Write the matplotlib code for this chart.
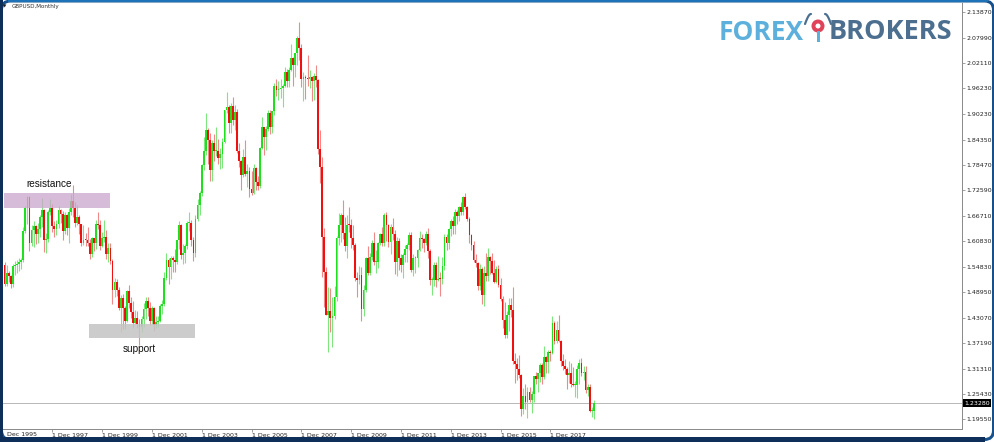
import numpy as np
import matplotlib
matplotlib.use("Agg")
import matplotlib.pyplot as plt
from matplotlib.patches import Rectangle, FancyBboxPatch, Circle

# GBPUSD monthly bars, Jan 1996 .. Sep 2019 (one row per year)
opens = [
    1.553, 1.508, 1.534, 1.527, 1.508, 1.551, 1.553, 1.556, 1.559, 1.565, 1.632, 1.685,
    1.711, 1.605, 1.634, 1.644, 1.625, 1.636, 1.664, 1.680, 1.612, 1.614, 1.675, 1.686,
    1.644, 1.637, 1.649, 1.681, 1.672, 1.633, 1.669, 1.639, 1.675, 1.702, 1.685, 1.651,
    1.665, 1.647, 1.604, 1.612, 1.610, 1.605, 1.578, 1.615, 1.605, 1.649, 1.646, 1.597,
    1.615, 1.617, 1.579, 1.592, 1.563, 1.495, 1.513, 1.495, 1.453, 1.477, 1.454, 1.424,
    1.493, 1.464, 1.445, 1.419, 1.430, 1.416, 1.410, 1.428, 1.452, 1.470, 1.454, 1.423,
    1.454, 1.413, 1.420, 1.423, 1.457, 1.462, 1.524, 1.565, 1.548, 1.570, 1.564, 1.559,
    1.610, 1.645, 1.577, 1.580, 1.596, 1.651, 1.651, 1.610, 1.580, 1.660, 1.693, 1.720,
    1.785, 1.818, 1.865, 1.842, 1.773, 1.836, 1.818, 1.818, 1.800, 1.810, 1.839, 1.912,
    1.920, 1.883, 1.921, 1.888, 1.908, 1.817, 1.794, 1.762, 1.803, 1.765, 1.772, 1.729,
    1.721, 1.779, 1.746, 1.737, 1.824, 1.872, 1.850, 1.868, 1.905, 1.873, 1.909, 1.969,
    1.958, 1.961, 1.964, 1.967, 2.000, 1.979, 2.006, 2.032, 2.017, 2.044, 2.079, 2.055,
    1.985, 1.989, 1.986, 1.985, 1.989, 1.979, 1.990, 1.982, 1.822, 1.780, 1.618, 1.538,
    1.438, 1.447, 1.430, 1.434, 1.478, 1.616, 1.646, 1.670, 1.628, 1.598, 1.646, 1.645,
    1.615, 1.599, 1.522, 1.518, 1.529, 1.451, 1.495, 1.569, 1.534, 1.572, 1.603, 1.559,
    1.559, 1.603, 1.625, 1.605, 1.670, 1.646, 1.606, 1.642, 1.625, 1.559, 1.608, 1.570,
    1.554, 1.576, 1.591, 1.600, 1.623, 1.541, 1.569, 1.569, 1.588, 1.615, 1.614, 1.603,
    1.626, 1.586, 1.518, 1.519, 1.553, 1.519, 1.521, 1.520, 1.550, 1.619, 1.604, 1.637,
    1.656, 1.644, 1.675, 1.667, 1.687, 1.676, 1.710, 1.688, 1.659, 1.622, 1.599, 1.565,
    1.558, 1.505, 1.543, 1.483, 1.535, 1.528, 1.571, 1.562, 1.535, 1.513, 1.543, 1.506,
    1.474, 1.425, 1.392, 1.437, 1.461, 1.449, 1.330, 1.323, 1.313, 1.297, 1.220, 1.249,
    1.235, 1.258, 1.241, 1.255, 1.295, 1.289, 1.302, 1.321, 1.293, 1.340, 1.328, 1.351,
    1.350, 1.419, 1.377, 1.402, 1.377, 1.330, 1.320, 1.312, 1.299, 1.303, 1.277, 1.275,
    1.276, 1.311, 1.326, 1.303, 1.304, 1.263, 1.270, 1.215, 1.215,
]
highs = [
    1.560, 1.553, 1.540, 1.530, 1.556, 1.562, 1.565, 1.570, 1.570, 1.640, 1.690, 1.713,
    1.712, 1.645, 1.654, 1.646, 1.650, 1.668, 1.709, 1.684, 1.627, 1.680, 1.705, 1.695,
    1.656, 1.658, 1.689, 1.684, 1.678, 1.675, 1.672, 1.686, 1.718, 1.738, 1.698, 1.691,
    1.668, 1.649, 1.645, 1.628, 1.641, 1.614, 1.619, 1.616, 1.658, 1.677, 1.657, 1.630,
    1.657, 1.635, 1.604, 1.604, 1.567, 1.524, 1.520, 1.503, 1.483, 1.485, 1.459, 1.496,
    1.507, 1.479, 1.469, 1.448, 1.446, 1.427, 1.435, 1.465, 1.480, 1.478, 1.468, 1.458,
    1.455, 1.434, 1.436, 1.462, 1.473, 1.536, 1.580, 1.569, 1.573, 1.574, 1.591, 1.612,
    1.656, 1.648, 1.602, 1.602, 1.654, 1.675, 1.658, 1.617, 1.669, 1.705, 1.724, 1.787,
    1.849, 1.905, 1.870, 1.860, 1.842, 1.857, 1.872, 1.846, 1.824, 1.847, 1.913, 1.955,
    1.925, 1.929, 1.942, 1.923, 1.914, 1.835, 1.797, 1.822, 1.842, 1.788, 1.780, 1.772,
    1.787, 1.781, 1.760, 1.827, 1.895, 1.873, 1.876, 1.913, 1.912, 1.910, 1.975, 1.985,
    1.980, 1.984, 1.972, 2.013, 2.007, 2.013, 2.066, 2.034, 2.044, 2.083, 2.116, 2.065,
    2.000, 1.993, 2.040, 2.004, 1.990, 1.999, 2.016, 1.985, 1.866, 1.803, 1.638, 1.549,
    1.502, 1.499, 1.478, 1.505, 1.620, 1.674, 1.674, 1.704, 1.664, 1.670, 1.688, 1.660,
    1.646, 1.603, 1.537, 1.551, 1.549, 1.506, 1.572, 1.596, 1.582, 1.610, 1.630, 1.588,
    1.606, 1.628, 1.640, 1.674, 1.675, 1.648, 1.648, 1.662, 1.635, 1.617, 1.616, 1.578,
    1.580, 1.599, 1.604, 1.630, 1.630, 1.578, 1.574, 1.591, 1.631, 1.625, 1.616, 1.631,
    1.638, 1.590, 1.525, 1.560, 1.560, 1.575, 1.537, 1.572, 1.626, 1.626, 1.638, 1.660,
    1.667, 1.682, 1.680, 1.690, 1.700, 1.712, 1.719, 1.690, 1.664, 1.624, 1.608, 1.579,
    1.560, 1.555, 1.548, 1.550, 1.582, 1.593, 1.575, 1.582, 1.565, 1.551, 1.553, 1.524,
    1.481, 1.467, 1.446, 1.477, 1.477, 1.502, 1.348, 1.337, 1.345, 1.300, 1.267, 1.277,
    1.271, 1.271, 1.262, 1.296, 1.305, 1.303, 1.325, 1.327, 1.366, 1.342, 1.355, 1.355,
    1.434, 1.423, 1.424, 1.438, 1.380, 1.347, 1.336, 1.316, 1.330, 1.326, 1.317, 1.284,
    1.322, 1.335, 1.338, 1.320, 1.318, 1.278, 1.278, 1.225, 1.241,
]
lows = [
    1.504, 1.505, 1.514, 1.500, 1.501, 1.530, 1.535, 1.540, 1.544, 1.560, 1.628, 1.648,
    1.585, 1.597, 1.595, 1.602, 1.604, 1.617, 1.640, 1.583, 1.580, 1.606, 1.668, 1.630,
    1.617, 1.623, 1.638, 1.651, 1.612, 1.626, 1.622, 1.604, 1.669, 1.665, 1.641, 1.646,
    1.626, 1.597, 1.600, 1.597, 1.598, 1.566, 1.572, 1.585, 1.590, 1.636, 1.589, 1.594,
    1.606, 1.568, 1.560, 1.556, 1.462, 1.480, 1.482, 1.448, 1.397, 1.404, 1.404, 1.421,
    1.453, 1.431, 1.407, 1.417, 1.406, 1.368, 1.398, 1.410, 1.427, 1.434, 1.413, 1.416,
    1.400, 1.406, 1.410, 1.422, 1.440, 1.458, 1.519, 1.508, 1.520, 1.538, 1.537, 1.555,
    1.591, 1.568, 1.555, 1.558, 1.590, 1.631, 1.596, 1.562, 1.572, 1.656, 1.669, 1.714,
    1.774, 1.808, 1.788, 1.747, 1.748, 1.795, 1.806, 1.788, 1.776, 1.777, 1.836, 1.905,
    1.858, 1.860, 1.877, 1.867, 1.813, 1.780, 1.727, 1.757, 1.760, 1.735, 1.711, 1.715,
    1.717, 1.728, 1.728, 1.732, 1.823, 1.809, 1.819, 1.863, 1.857, 1.858, 1.900, 1.944,
    1.936, 1.940, 1.919, 1.965, 1.965, 1.966, 2.003, 1.968, 1.988, 2.016, 2.029, 1.965,
    1.934, 1.937, 1.967, 1.964, 1.933, 1.936, 1.965, 1.810, 1.744, 1.525, 1.455, 1.437,
    1.351, 1.397, 1.364, 1.429, 1.470, 1.600, 1.607, 1.613, 1.586, 1.570, 1.630, 1.592,
    1.588, 1.515, 1.478, 1.508, 1.423, 1.435, 1.490, 1.531, 1.530, 1.564, 1.553, 1.535,
    1.547, 1.600, 1.597, 1.598, 1.609, 1.595, 1.578, 1.610, 1.533, 1.527, 1.542, 1.536,
    1.523, 1.560, 1.560, 1.589, 1.537, 1.527, 1.534, 1.549, 1.586, 1.592, 1.583, 1.600,
    1.569, 1.507, 1.483, 1.504, 1.501, 1.515, 1.481, 1.510, 1.542, 1.589, 1.590, 1.620,
    1.625, 1.625, 1.648, 1.654, 1.669, 1.669, 1.684, 1.654, 1.605, 1.588, 1.559, 1.548,
    1.495, 1.495, 1.463, 1.457, 1.517, 1.517, 1.533, 1.533, 1.511, 1.511, 1.503, 1.470,
    1.408, 1.384, 1.384, 1.400, 1.433, 1.323, 1.280, 1.286, 1.292, 1.203, 1.208, 1.220,
    1.199, 1.235, 1.211, 1.236, 1.277, 1.259, 1.281, 1.277, 1.290, 1.303, 1.303, 1.330,
    1.346, 1.371, 1.372, 1.375, 1.320, 1.310, 1.301, 1.266, 1.279, 1.270, 1.272, 1.248,
    1.244, 1.277, 1.296, 1.287, 1.256, 1.250, 1.212, 1.201, 1.196,
]
closes = [
    1.508, 1.534, 1.527, 1.508, 1.551, 1.553, 1.556, 1.559, 1.565, 1.632, 1.685, 1.711,
    1.605, 1.634, 1.644, 1.625, 1.636, 1.664, 1.680, 1.612, 1.614, 1.675, 1.686, 1.644,
    1.637, 1.649, 1.681, 1.672, 1.633, 1.669, 1.639, 1.675, 1.702, 1.685, 1.651, 1.665,
    1.647, 1.604, 1.612, 1.610, 1.605, 1.578, 1.615, 1.605, 1.649, 1.646, 1.597, 1.615,
    1.617, 1.579, 1.592, 1.563, 1.495, 1.513, 1.495, 1.453, 1.477, 1.454, 1.424, 1.493,
    1.464, 1.445, 1.419, 1.430, 1.416, 1.410, 1.428, 1.452, 1.470, 1.454, 1.423, 1.454,
    1.413, 1.420, 1.423, 1.457, 1.462, 1.524, 1.565, 1.548, 1.570, 1.564, 1.559, 1.610,
    1.645, 1.577, 1.580, 1.596, 1.651, 1.651, 1.610, 1.580, 1.660, 1.693, 1.720, 1.785,
    1.818, 1.865, 1.842, 1.773, 1.836, 1.818, 1.818, 1.800, 1.810, 1.839, 1.912, 1.920,
    1.883, 1.921, 1.888, 1.908, 1.817, 1.794, 1.762, 1.803, 1.765, 1.772, 1.729, 1.721,
    1.779, 1.746, 1.737, 1.824, 1.872, 1.850, 1.868, 1.905, 1.873, 1.909, 1.969, 1.958,
    1.961, 1.964, 1.967, 2.000, 1.979, 2.006, 2.032, 2.017, 2.044, 2.079, 2.055, 1.985,
    1.989, 1.986, 1.985, 1.989, 1.979, 1.990, 1.982, 1.822, 1.780, 1.618, 1.538, 1.438,
    1.447, 1.430, 1.434, 1.478, 1.616, 1.646, 1.670, 1.628, 1.598, 1.646, 1.645, 1.615,
    1.599, 1.522, 1.518, 1.529, 1.451, 1.495, 1.569, 1.534, 1.572, 1.603, 1.559, 1.559,
    1.603, 1.625, 1.605, 1.670, 1.646, 1.606, 1.642, 1.625, 1.559, 1.608, 1.570, 1.554,
    1.576, 1.591, 1.600, 1.623, 1.541, 1.569, 1.569, 1.588, 1.615, 1.614, 1.603, 1.626,
    1.586, 1.518, 1.519, 1.553, 1.519, 1.521, 1.520, 1.550, 1.619, 1.604, 1.637, 1.656,
    1.644, 1.675, 1.667, 1.687, 1.676, 1.710, 1.688, 1.659, 1.622, 1.599, 1.565, 1.558,
    1.505, 1.543, 1.483, 1.535, 1.528, 1.571, 1.562, 1.535, 1.513, 1.543, 1.506, 1.474,
    1.425, 1.392, 1.437, 1.461, 1.449, 1.330, 1.323, 1.313, 1.297, 1.220, 1.249, 1.235,
    1.258, 1.241, 1.255, 1.295, 1.289, 1.302, 1.321, 1.293, 1.340, 1.328, 1.351, 1.350,
    1.419, 1.377, 1.402, 1.377, 1.330, 1.320, 1.312, 1.299, 1.303, 1.277, 1.275, 1.276,
    1.311, 1.326, 1.303, 1.304, 1.263, 1.270, 1.215, 1.215, 1.233,
]

# bar index 0 = Dec 1995, so the first bar (Jan 1996) sits at 1
first_bar = 1
date_ticks = [24, 48, 72, 96, 120, 144, 168, 192, 216, 240, 264]
date_labels = ["1 Dec 1997", "1 Dec 1999", "1 Dec 2001", "1 Dec 2003",
               "1 Dec 2005", "1 Dec 2007", "1 Dec 2009", "1 Dec 2011",
               "1 Dec 2013", "1 Dec 2015", "1 Dec 2017"]
price_labels = ["2.13870", "2.07990", "2.02110", "1.96230", "1.90230",
                "1.84350", "1.78470", "1.72590", "1.66710", "1.60830",
                "1.54830", "1.48950", "1.43070", "1.37190", "1.31310",
                "1.25430", "1.19550"]
last_price = 1.2328

resistance_prices = (1.6852, 1.7199)
resistance_bars = (0.7, 51.8)
support_prices = (1.3839, 1.4163)
support_bars = (41.7, 92.8)

bull = "#1fe01f"
bear = "#f01010"
bull_wick = "#7fe67f"
bear_wick = "#f08a8a"
px = 0.72  # points per pixel at dpi 100

o = np.array(opens)
h = np.array(highs)
l = np.array(lows)
c = np.array(closes)
x = np.arange(len(c)) + first_bar
up = c >= o

fig = plt.figure(figsize=(9.95, 4.42), dpi=100)
ax = fig.add_axes([3 / 995, 13 / 442, 959 / 995, 426 / 442])
ax.set_xlim(0.24, 462.4)
ax.set_ylim(1.1730, 2.1603)

ax.axhline(last_price, color="#b9b9b9", lw=1 * px, zorder=1)

# wicks then bodies
ax.vlines(x[up], l[up], h[up], color=bull_wick, lw=1.1 * px, zorder=2)
ax.vlines(x[~up], l[~up], h[~up], color=bear_wick, lw=1.1 * px, zorder=2)
body_lo = np.minimum(o, c)
body_h = np.maximum(np.abs(c - o), 0.0025)
ax.bar(x, body_h, bottom=body_lo, width=0.85,
       color=np.where(up, bull, bear), linewidth=0, zorder=3)

# zones
ax.add_patch(Rectangle((resistance_bars[0], resistance_prices[0]),
                       resistance_bars[1] - resistance_bars[0],
                       resistance_prices[1] - resistance_prices[0],
                       facecolor="#c9a6cc", alpha=0.75, linewidth=0, zorder=4))
ax.add_patch(Rectangle((support_bars[0], support_prices[0]),
                       support_bars[1] - support_bars[0],
                       support_prices[1] - support_prices[0],
                       facecolor="#c4c4c4", alpha=0.85, linewidth=0, zorder=4))
ax.text(22.7, 1.7415, "resistance", ha="center", va="center",
        fontsize=7.2, family="Liberation Sans", color="#111111", zorder=5)
ax.text(65.8, 1.3584, "support", ha="center", va="center",
        fontsize=7.2, family="Liberation Sans", color="#111111", zorder=5)

# axes look (MT4 style)
for s in ["top", "left"]:
    ax.spines[s].set_visible(False)
for s in ["bottom", "right"]:
    ax.spines[s].set_color("#8c8c8c")
    ax.spines[s].set_linewidth(1 * px)

ax.yaxis.tick_right()
ax.set_yticks([float(v) for v in price_labels], price_labels)
ax.set_xticks(date_ticks, date_labels)
for lab in ax.get_xticklabels():
    lab.set_horizontalalignment("left")
ax.tick_params(axis="both", labelsize=4.5, colors="#8c8c8c",
               labelcolor="#222222", length=3 * px, width=0.8 * px)
ax.tick_params(axis="x", pad=1.0)
ax.tick_params(axis="y", pad=1.0)

ax.annotate("1.23280", xy=(1, last_price), xycoords=("axes fraction", "data"),
            xytext=(1.6, 0), textcoords="offset points", va="center", ha="left",
            fontsize=4.5, color="white",
            bbox=dict(boxstyle="square,pad=0.2", fc="black", ec="black", lw=0))

# overlay in pixel coordinates: frame, title, logo
ov = fig.add_axes([0, 0, 1, 1], zorder=10)
ov.set_xlim(0, 995)
ov.set_ylim(442, 0)
ov.axis("off")
ov.patch.set_alpha(0)

ov.text(7, 434.5, "Dec 1995", fontsize=4.5, color="#222222", va="center", ha="left")
ov.text(5, 6.5, "\u25bc", fontsize=3.2, color="#222222", va="center", ha="center")
ov.text(11.5, 6.8, "GBPUSD,Monthly", fontsize=4.1, color="#333333",
        va="center", ha="left")

ov.add_patch(FancyBboxPatch((1.5, 1.0), 992, 438.5,
                            boxstyle="round,pad=0,rounding_size=9",
                            fill=False, ec="#17508a", lw=3 * px))
ov.add_patch(Rectangle((0, 436.5), 985, 6, color="#0e2f5a", lw=0))
ov.add_patch(Rectangle((0, 0), 2.6, 436.5, color="#0e2f5a", lw=0))
ov.add_patch(Rectangle((8, 0), 980, 1.8, color="#1e73b8", lw=0))

# logo
ov.text(719, 32, "FOREX", fontsize=19, family="Open Sans", weight="bold",
        color="#5db0dc", va="center", ha="left")
ov.text(829, 32, "BROKERS", fontsize=19.5, family="Open Sans", weight="bold",
        color="#4c6f90", va="center", ha="left")
t = np.linspace(0, 1, 20)
ov.plot(805 + 6 * t, 24 - 10 * np.sin(t * np.pi / 2), color="#4c6f90", lw=2.2 * px,
        solid_capstyle="round")
ov.plot(831 - 6 * t, 24 - 10 * np.sin(t * np.pi / 2), color="#4c6f90", lw=2.2 * px,
        solid_capstyle="round")
ov.add_patch(Circle((818, 26), 6.5, color="#e0425a", lw=0))
ov.add_patch(Circle((818, 26), 2.5, color="white", lw=0))
ov.plot([818, 818], [32, 40], color="#5db0dc", lw=3 * px)

fig.savefig("out.png", dpi=100)
